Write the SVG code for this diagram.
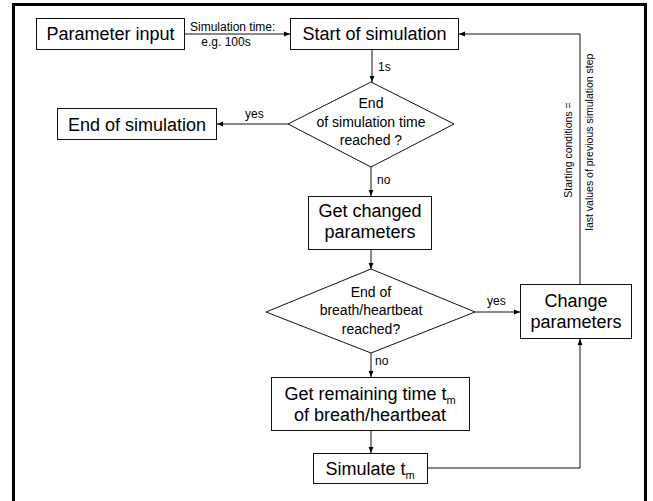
<svg xmlns="http://www.w3.org/2000/svg" width="653" height="501" viewBox="0 0 653 501">
<style>
.box{fill:#fff;stroke:#111;stroke-width:1}
.t18{font-family:"Liberation Sans",Arial,sans-serif;font-size:18px;fill:#000;text-anchor:middle}
.t14{font-family:"Liberation Sans",Arial,sans-serif;font-size:14px;fill:#000;text-anchor:middle}
.t12{font-family:"Liberation Sans",Arial,sans-serif;font-size:12px;fill:#000}
.t10{font-family:"Liberation Sans",Arial,sans-serif;font-size:10.5px;fill:#000;text-anchor:middle}
.sub{font-size:11px}
.c{fill:none;stroke:#111;stroke-width:1}
</style>
<defs>
<marker id="ah" viewBox="0 0 6 6" refX="6" refY="3" markerWidth="6" markerHeight="6" markerUnits="userSpaceOnUse" orient="auto">
<path d="M0,0.6 L6,3 L0,5.4 Z" fill="#000"/>
</marker>
</defs>
<rect width="653" height="501" fill="#fff"/>
<polyline points="13.5,505 13.5,4.5 645.5,4.5 645.5,505" fill="none" stroke="#000" stroke-width="3"/>

<g id="connectors">
<line class="c" x1="185" y1="34" x2="290" y2="34" marker-end="url(#ah)"/>
<line class="c" x1="372" y1="49" x2="372" y2="82" marker-end="url(#ah)"/>
<line class="c" x1="288" y1="124" x2="217" y2="124" marker-end="url(#ah)"/>
<line class="c" x1="371" y1="167" x2="371" y2="196" marker-end="url(#ah)"/>
<line class="c" x1="371" y1="250" x2="371" y2="269" marker-end="url(#ah)"/>
<line class="c" x1="475" y1="312" x2="520" y2="312" marker-end="url(#ah)"/>
<line class="c" x1="371" y1="353" x2="371" y2="377" marker-end="url(#ah)"/>
<line class="c" x1="371" y1="430" x2="371" y2="453" marker-end="url(#ah)"/>
<polyline class="c" points="428,468 580,468 580,339" marker-end="url(#ah)"/>
<polyline class="c" points="580,284 580,34 459,34" marker-end="url(#ah)"/>
<text class="t12" x="190" y="31">Simulation time:</text>
<text class="t12" x="226" y="46" text-anchor="middle">e.g. 100s</text>
<text class="t12" x="378" y="71">1s</text>
<text class="t12" x="245" y="118">yes</text>
<text class="t12" x="377" y="184">no</text>
<text class="t12" x="487" y="305">yes</text>
<text class="t12" x="375" y="365">no</text>
<text class="t10" transform="translate(572,150) rotate(-90)">Starting conditions =</text>
<text class="t10" transform="translate(593,142) rotate(-90)">last values of previous simulation step</text>
</g>

<g id="param-input">
<rect class="box" x="36.5" y="18.5" width="148" height="31"/>
<text class="t18" x="110.5" y="40">Parameter input</text>
</g>

<g id="start-sim">
<rect class="box" x="290.5" y="18.5" width="168" height="31"/>
<text class="t18" x="374.5" y="40">Start of simulation</text>
</g>

<g id="end-time-check">
<polygon class="box" points="371,82 454,124 371,167 288,124"/>
<text class="t14" x="371" y="108">End</text>
<text class="t14" x="371" y="127">of simulation time</text>
<text class="t14" x="371" y="145">reached ?</text>
</g>

<g id="end-sim">
<rect class="box" x="57.5" y="108.5" width="159" height="31"/>
<text class="t18" x="137" y="131">End of simulation</text>
</g>

<g id="get-changed">
<rect class="box" x="308.5" y="196.5" width="123" height="53"/>
<text class="t18" x="370" y="217">Get changed</text>
<text class="t18" x="370" y="238">parameters</text>
</g>

<g id="breath-check">
<polygon class="box" points="371,269 475,312 371,353 266,312"/>
<text class="t14" x="371" y="297">End of</text>
<text class="t14" x="371" y="315">breath/heartbeat</text>
<text class="t14" x="371" y="334">reached?</text>
</g>

<g id="change-params">
<rect class="box" x="520.5" y="284.5" width="111" height="54"/>
<text class="t18" x="576" y="307">Change</text>
<text class="t18" x="576" y="328">parameters</text>
</g>

<g id="get-remaining">
<rect class="box" x="271.5" y="377.5" width="198" height="53"/>
<text class="t18" x="370" y="400">Get remaining time t<tspan class="sub" dy="4">m</tspan></text>
<text class="t18" x="370" y="421">of breath/heartbeat</text>
</g>

<g id="simulate">
<rect class="box" x="313.5" y="453.5" width="114" height="30"/>
<text class="t18" x="370" y="475">Simulate t<tspan class="sub" dy="4">m</tspan></text>
</g>
</svg>
